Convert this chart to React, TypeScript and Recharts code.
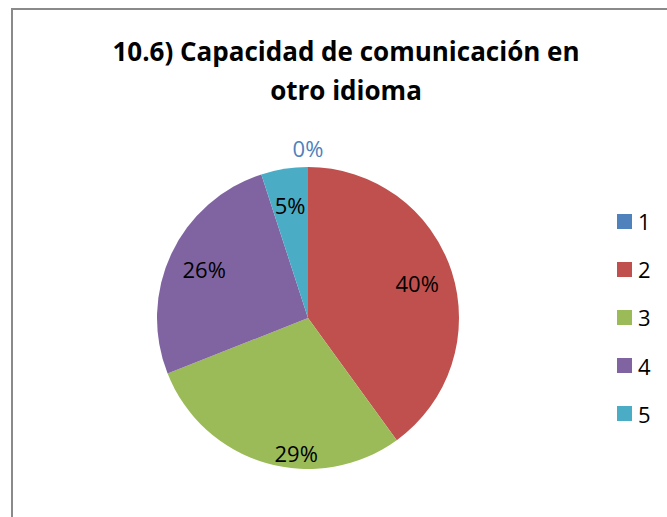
import { PieChart, Pie, Cell, Legend } from "recharts";

const categories = ["1", "2", "3", "4", "5"];
const values = [0, 40, 29, 26, 5];
const colors = ["#4F81BD", "#C0504D", "#9BBB59", "#8064A2", "#4BACC6"];

const titleLines = ["10.6) Capacidad de comunicación en", "otro idioma"];

const data = categories.map((c, i) => ({ name: c, value: values[i] }));
const total = values.reduce((a, b) => a + b, 0);

const font = "'Open Sans', sans-serif";
const RAD = Math.PI / 180;

function PctLabel(props: any) {
  const { cx, cy, midAngle, outerRadius, index, value } = props;
  const zero = value === 0;
  // la etiqueta del sector grande de abajo queda algo más afuera (como en Excel)
  const lower = midAngle < -60 && midAngle > -120;
  const r = zero ? outerRadius + 19 : outerRadius * (lower ? 0.9 : 0.76);
  const ang = lower ? -95 : midAngle;
  const x = cx + r * Math.cos(-ang * RAD);
  const y = cy + r * Math.sin(-ang * RAD);
  const pct = Math.round((value / total) * 100);
  return (
    <text
      x={x}
      y={y}
      textAnchor="middle"
      dominantBaseline="central"
      fontSize={22}
      fontFamily={font}
      fill={zero ? colors[index] : "#000"}
    >
      {pct}%
    </text>
  );
}

function LegendList(props: any) {
  const { payload } = props;
  return (
    <div style={{ fontFamily: font, fontSize: 22, color: "#000" }}>
      {(payload ?? []).map((p: any) => (
        <div
          key={p.value}
          style={{ display: "flex", alignItems: "center", height: 48.2 }}
        >
          <span
            style={{
              width: 15,
              height: 15,
              background: p.color,
              display: "inline-block",
              marginRight: 6,
            }}
          />
          <span>{p.value}</span>
        </div>
      ))}
    </div>
  );
}

export default function App() {
  return (
    <div
      style={{
        position: "fixed",
        left: 0,
        top: 0,
        width: 667,
        height: 517,
        overflow: "hidden",
        background: "#fff",
      }}
    >
      {/* marco del gráfico, se sale por la derecha y abajo */}
      <div
        style={{
          position: "absolute",
          left: 11,
          top: 8,
          width: 720,
          height: 600,
          border: "2px solid #8a8a8a",
        }}
      />
      <div
        style={{
          position: "absolute",
          left: 0,
          top: 32,
          width: 692,
          textAlign: "center",
          fontFamily: font,
          fontWeight: "bold",
          fontSize: 26,
          lineHeight: "39px",
          color: "#000",
        }}
      >
        {titleLines.map((t) => (
          <div key={t}>{t}</div>
        ))}
      </div>
      <div style={{ position: "absolute", left: 0, top: 0 }}>
        <PieChart width={667} height={517} margin={{ top: 0, right: 0, bottom: 0, left: 0 }}>
          <Pie
            data={data}
            dataKey="value"
            nameKey="name"
            cx={308}
            cy={318}
            outerRadius={151}
            startAngle={90}
            endAngle={-270}
            stroke="none"
            label={<PctLabel />}
            labelLine={false}
            isAnimationActive={false}
          >
            {data.map((d, i) => (
              <Cell key={d.name} fill={colors[i]} />
            ))}
          </Pie>
          <Legend
            layout="vertical"
            content={<LegendList />}
            wrapperStyle={{ position: "absolute", left: 617, top: 197, width: 50 }}
          />
        </PieChart>
      </div>
    </div>
  );
}
